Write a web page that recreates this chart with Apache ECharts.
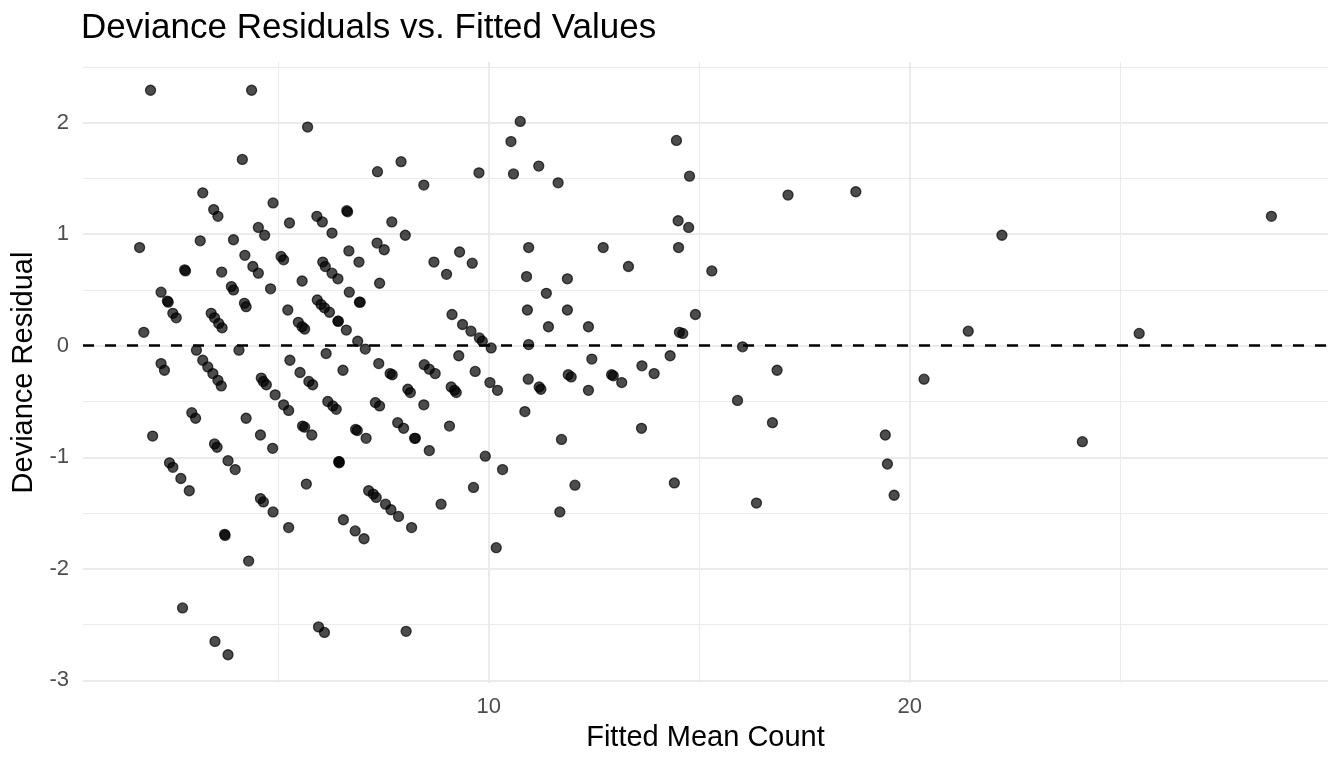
<!DOCTYPE html>
<html>
<head>
<meta charset="utf-8">
<title>Deviance Residuals vs. Fitted Values</title>
<script src="https://cdn.jsdelivr.net/npm/echarts@6.0.0/dist/echarts.min.js"></script>
<style>
  html, body { margin: 0; padding: 0; background: #fff; }
  #chart { width: 1344px; height: 768px; }
</style>
</head>
<body>
<div id="chart"></div>
<script>
// fitted mean count (x) and deviance residual (y)
var fitted = [
  1.97, 4.37, 5.70, 4.15, 3.21, 3.47, 3.57, 4.88, 5.92, 6.05,
  4.53, 4.68, 5.27, 1.71, 3.15, 3.94, 4.21, 5.07, 5.13, 4.40,
  4.53, 2.78, 2.80, 3.66, 3.89, 3.94, 4.82, 5.57, 2.22, 2.37,
  2.39, 2.50, 2.58, 3.41, 3.49, 3.59, 3.67, 4.20, 4.24, 5.23,
  5.48, 5.57, 5.63, 5.93, 1.81, 3.06, 4.07,
  2.22, 2.30, 3.21, 3.33, 3.45, 3.57, 3.65, 4.60, 4.65, 4.72,
  4.93, 5.28, 5.52, 5.73, 5.82, 5.13, 5.25, 2.95, 3.04, 4.24,
  2.02, 3.49, 3.55, 4.58, 4.87, 5.58, 5.63, 5.80, 2.42, 2.50,
  2.69, 2.89, 3.81, 3.98, 5.67, 4.58, 4.65, 4.88, 5.25, 3.73,
  3.74, 4.30, 2.73, 3.50, 3.81, 5.96,
  7.36, 7.92, 8.46, 9.77, 6.28, 6.63, 6.65, 7.70, 8.02, 7.35,
  7.52, 6.68, 6.92, 6.06, 6.12, 6.28, 6.42, 7.41, 8.70, 9.00,
  9.31, 9.61, 6.69, 6.93, 6.95, 6.02, 6.10, 6.22, 6.42, 6.43,
  6.62, 6.89, 7.07, 9.13, 9.38, 9.58, 9.78, 9.85, 10.06, 6.14,
  9.29,
  6.54, 7.39, 7.66, 7.71, 8.47, 8.59, 8.73, 9.68, 10.03, 10.21,
  9.11, 9.19, 9.23, 8.08, 8.14, 8.46, 6.18, 6.30, 6.38, 7.31,
  7.41, 6.84, 6.88, 7.09, 7.84, 7.98, 8.24, 8.26, 8.59, 9.07,
  9.92, 6.44, 6.45, 6.45, 7.15, 7.26, 7.33, 7.55, 7.68, 7.86,
  8.17, 8.87, 9.64, 10.33, 6.55, 6.83, 7.04, 10.18, 6.10, 8.04,
  10.75, 10.53, 10.59, 11.19, 11.65, 14.46, 14.77, 14.50, 14.75, 10.95,
  12.72, 14.51, 13.32, 15.30, 10.90, 11.87, 11.37, 10.92, 11.87, 11.42,
  12.37, 14.91, 14.53, 14.61, 10.95, 12.45, 14.31,
  13.64, 13.93, 11.89, 11.96, 12.92, 12.96, 13.16, 10.94, 11.20, 11.24,
  12.37, 10.86, 11.73, 13.63, 12.05, 14.41, 11.69,
  17.11, 18.72, 16.03, 16.85, 15.91, 16.74, 20.34, 19.42, 19.47, 19.63,
  16.36,
  22.19, 28.59, 21.39, 25.45, 24.10
];
var residual = [
  2.29, 2.29, 1.96, 1.67, 1.37, 1.22, 1.16, 1.28, 1.16, 1.11,
  1.06, 0.99, 1.10, 0.88, 0.94, 0.95, 0.81, 0.80, 0.77, 0.71,
  0.65, 0.68, 0.67, 0.66, 0.53, 0.50, 0.51, 0.58, 0.48, 0.40,
  0.39, 0.29, 0.25, 0.29, 0.25, 0.20, 0.16, 0.38, 0.35, 0.32,
  0.21, 0.17, 0.15, 0.41, 0.12, -0.04, -0.04,
  -0.16, -0.22, -0.13, -0.19, -0.25, -0.31, -0.36, -0.29, -0.32, -0.35,
  -0.44, -0.13, -0.24, -0.32, -0.35, -0.53, -0.58, -0.60, -0.65, -0.65,
  -0.81, -0.88, -0.91, -0.80, -0.92, -0.72, -0.73, -0.80, -1.05, -1.09,
  -1.19, -1.30, -1.03, -1.11, -1.24, -1.37, -1.40, -1.49, -1.63, -1.69,
  -1.70, -1.93, -2.35, -2.65, -2.77, -2.52,
  1.56, 1.65, 1.44, 1.55, 1.01, 1.21, 1.20, 1.11, 0.99, 0.92,
  0.86, 0.85, 0.75, 0.75, 0.71, 0.65, 0.60, 0.56, 0.75, 0.64,
  0.84, 0.74, 0.48, 0.39, 0.39, 0.37, 0.34, 0.30, 0.22, 0.22,
  0.14, 0.04, -0.03, 0.28, 0.19, 0.13, 0.07, 0.04, -0.02, -0.07,
  -0.09,
  -0.22, -0.16, -0.25, -0.26, -0.17, -0.21, -0.25, -0.23, -0.33, -0.40,
  -0.37, -0.40, -0.42, -0.39, -0.42, -0.53, -0.50, -0.54, -0.57, -0.51,
  -0.54, -0.75, -0.76, -0.83, -0.69, -0.74, -0.83, -0.83, -0.94, -0.72,
  -0.99, -1.04, -1.05, -1.04, -1.30, -1.33, -1.36, -1.42, -1.47, -1.53,
  -1.63, -1.42, -1.27, -1.11, -1.56, -1.66, -1.73, -1.81, -2.57, -2.56,
  2.01, 1.83, 1.54, 1.61, 1.46, 1.84, 1.52, 1.12, 1.06, 0.88,
  0.88, 0.88, 0.71, 0.67, 0.62, 0.60, 0.47, 0.32, 0.32, 0.17,
  0.17, 0.28, 0.12, 0.11, 0.01, -0.12, -0.09,
  -0.18, -0.25, -0.26, -0.28, -0.26, -0.27, -0.33, -0.30, -0.37, -0.39,
  -0.40, -0.59, -0.84, -0.74, -1.25, -1.23, -1.49,
  1.35, 1.38, -0.01, -0.22, -0.49, -0.69, -0.30, -0.80, -1.06, -1.34,
  -1.41,
  0.99, 1.16, 0.13, 0.11, -0.86
];
var xBreaks = [10, 20];
var yBreaks = [-3, -2, -1, 0, 1, 2];
var refLine = 0;

(function () {
  var myChart = echarts.init(document.getElementById("chart"));
  var font = "'Liberation Sans', Arial, Helvetica, sans-serif";

  var points = [];
  for (var i = 0; i < fitted.length; i++) {
    points.push([fitted[i], residual[i]]);
  }

  // ggplot style 5% expansion of the data range
  var expandMin = function (v) { return v.min - 0.05 * (v.max - v.min); };
  var expandMax = function (v) { return v.max + 0.05 * (v.max - v.min); };

  var gridLine = { show: true, showMinLine: false, showMaxLine: false, lineStyle: { color: "#ebebeb", width: 2 } };
  var minorLine = { show: true, lineStyle: { color: "#ebebeb", width: 1 } };

  myChart.setOption({
    backgroundColor: "#ffffff",
    animation: false,
    title: {
      text: "Deviance Residuals vs. Fitted Values",
      left: 81,
      top: 11,
      padding: 0,
      textStyle: { fontFamily: font, fontSize: 35, fontWeight: "normal", color: "#000" },
    },
    grid: {
      left: 83,
      right: 16,
      top: 62,
      bottom: 85,
      containLabel: false,
      outerBoundsMode: "none",
    },
    xAxis: {
      type: "value",
      min: expandMin,
      max: expandMax,
      splitNumber: 3,
      name: "Fitted Mean Count",
      nameLocation: "middle",
      nameGap: 40,
      nameTextStyle: { fontFamily: font, fontSize: 29, color: "#000" },
      axisLine: { show: false },
      axisTick: { show: false },
      axisLabel: {
        showMinLabel: false,
        showMaxLabel: false,
        margin: 13,
        fontFamily: font,
        fontSize: 22,
        color: "#4d4d4d",
        formatter: function (v) { return xBreaks.indexOf(v) >= 0 ? String(v) : ""; },
      },
      splitLine: gridLine,
      minorTick: { show: false, splitNumber: 2 },
      minorSplitLine: minorLine,
    },
    yAxis: {
      type: "value",
      min: expandMin,
      max: expandMax,
      splitNumber: 5,
      name: "Deviance Residual",
      nameLocation: "middle",
      nameRotate: 90,
      nameGap: 43,
      nameTextStyle: { fontFamily: font, fontSize: 29, color: "#000" },
      axisLine: { show: false },
      axisTick: { show: false },
      axisLabel: {
        showMinLabel: false,
        showMaxLabel: false,
        margin: 14,
        fontFamily: font,
        fontSize: 22,
        color: "#4d4d4d",
        formatter: function (v) { return yBreaks.indexOf(v) >= 0 ? String(v) : ""; },
      },
      splitLine: gridLine,
      minorTick: { show: false, splitNumber: 2 },
      minorSplitLine: minorLine,
    },
    series: [
      {
        type: "scatter",
        data: points,
        symbol: "circle",
        symbolSize: 10,
        itemStyle: {
          color: "rgba(0,0,0,0.7)",
          borderColor: "rgba(0,0,0,0.7)",
          borderWidth: 1.3,
          opacity: 1,
        },
        emphasis: { disabled: true },
        markLine: {
          silent: true,
          symbol: ["none", "none"],
          label: { show: false },
          lineStyle: { color: "#000", width: 2.5, type: [11, 11] },
          emphasis: { disabled: true },
          data: [{ yAxis: refLine }],
        },
      },
    ],
  });

  window.addEventListener("resize", function () {
    myChart.resize();
  });
})();
</script>
</body>
</html>
